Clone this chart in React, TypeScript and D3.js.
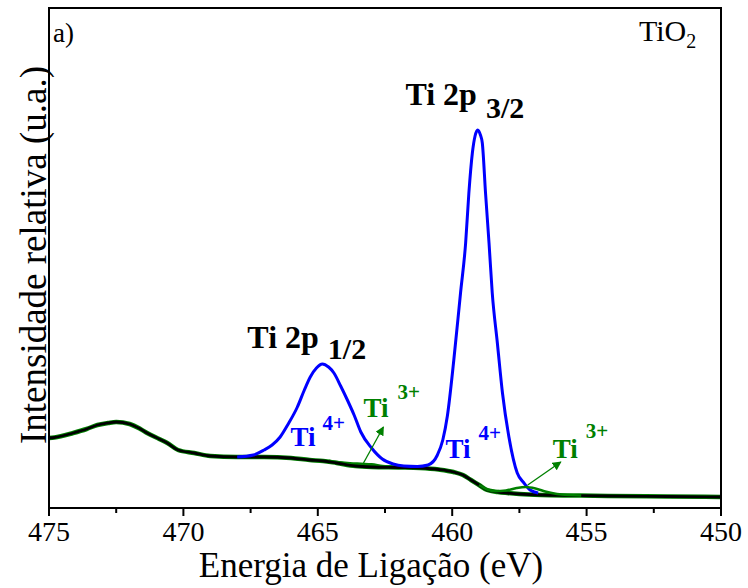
import React from 'react'
import { scaleLinear, line, curveMonotoneX } from 'd3'

// binding energy (eV) / intensity (u.a.)
const bgEnergy = [475.0, 474.8, 474.1, 473.6, 473.2, 472.8, 472.5, 472.0, 471.6, 471.35, 470.9, 470.6, 470.2, 469.6, 469.0, 468.0, 467.0, 466.0, 465.3, 464.8, 464.3, 463.6, 463.0, 462.0, 461.2, 460.5, 459.95, 459.6, 459.3, 459.0, 458.7, 458.3, 457.95, 457.5, 456.7, 455.5, 454.2, 452.0, 450.0]
const bgIntensity = [70, 70.5, 75, 79, 83, 85, 86, 84, 79, 75, 69, 65, 58, 55, 52, 51, 51, 50, 48, 47, 45, 42, 41, 40.5, 40, 38.5, 36, 33, 28, 23, 18, 16, 15, 14, 13, 12.5, 12, 11.5, 11]

const ti4Energy = [468.0, 467.4, 467.0, 466.7, 466.4, 466.1, 465.76, 465.5, 465.28, 465.05, 464.83, 464.6, 464.4, 464.15, 463.9, 463.65, 463.4, 463.0, 462.6, 462.2, 461.8, 461.3, 460.9, 460.55, 460.35, 460.18, 459.94, 459.69, 459.5, 459.38, 459.25, 459.15, 459.05, 458.95, 458.88, 458.76, 458.63, 458.51, 458.32, 458.13, 457.89, 457.58, 457.33, 457.1, 456.8]
const ti4Intensity = [51, 53, 58, 63, 71, 84, 101, 118, 131, 140, 144, 141, 135, 122, 108, 93, 76, 60, 49, 44, 42, 41.5, 43, 53, 68, 92, 148, 215, 265, 315, 355, 372, 378, 373, 365, 315, 265, 215, 165, 115, 71, 35, 25, 18, 15]

const ti3aEnergy = [464.6, 464.2, 463.8, 463.4, 463.0, 462.6, 462.2, 461.8]
const ti3aIntensity = [47, 45.5, 44.5, 44, 43.5, 41.8, 40.8, 40.5]

const ti3bEnergy = [459.0, 458.7, 458.4, 458.0, 457.6, 457.27, 456.9, 456.5, 456.1, 455.7, 455.2]
const ti3bIntensity = [23, 18.5, 16.8, 17.5, 20, 21, 19.5, 16.2, 14, 13, 12.6]

const majorTicks = [475, 470, 465, 460, 455, 450]
const minorTicks = [472.5, 467.5, 462.5, 457.5, 452.5]

const zip = (xs: number[], ys: number[]) => xs.map((x, i) => [x, ys[i]] as [number, number])

const App = () => {
    const left = 49, right = 721, top = 8, bottom = 508
    const x = scaleLinear().domain([475, 450]).range([left, right])
    const y = scaleLinear().domain([0, 500]).range([bottom, top])
    const path = line<[number, number]>()
        .x(d => x(d[0]))
        .y(d => y(d[1]))
        .curve(curveMonotoneX)

    const serif = { fontFamily: "'Liberation Serif', 'Times New Roman', serif" }
    const blue = '#0000ff'
    const green = '#008000'

    return (
        <svg width={748} height={588} style={{ position: 'absolute', left: 0, top: 0, ...serif }}>
            <defs>
                <marker id='arr' viewBox='0 0 10 10' refX='9' refY='5' markerWidth='9' markerHeight='9' orient='auto' markerUnits='userSpaceOnUse'>
                    <path d='M0,0 L10,5 L0,10 z' fill={green} />
                </marker>
            </defs>

            {/* data + background */}
            <path d={path(zip(bgEnergy, bgIntensity)) || ''} fill='none' stroke={green} strokeWidth={4.5} />
            <path d={path(zip(ti3aEnergy, ti3aIntensity)) || ''} fill='none' stroke={green} strokeWidth={3} />
            <path d={path(zip(bgEnergy, bgIntensity)) || ''} fill='none' stroke='#000' strokeWidth={2.8} />
            <path d={path(zip(ti4Energy, ti4Intensity)) || ''} fill='none' stroke={blue} strokeWidth={3} />
            <path d={path(zip(ti3bEnergy, ti3bIntensity)) || ''} fill='none' stroke={green} strokeWidth={2.5} />

            {/* frame */}
            <rect x={left} y={top} width={right - left} height={bottom - top} fill='none' stroke='#000' strokeWidth={2} />
            {majorTicks.map(t => (
                <g key={t}>
                    <line x1={x(t)} x2={x(t)} y1={bottom} y2={bottom + 8} stroke='#000' strokeWidth={2} />
                    <text x={x(t)} y={541} textAnchor='middle' style={{ ...serif, fontSize: 28 }}>{t}</text>
                </g>
            ))}
            {minorTicks.map(t => (
                <line key={t} x1={x(t)} x2={x(t)} y1={bottom} y2={bottom + 5} stroke='#000' strokeWidth={2} />
            ))}

            <text x={371} y={577} textAnchor='middle' style={{ ...serif, fontSize: 35 }}>Energia de Ligação (eV)</text>
            <text transform='translate(46,255) rotate(-90)' textAnchor='middle' style={{ ...serif, fontSize: 37 }}>Intensidade relativa (u.a.)</text>

            <text x={53} y={42} style={{ ...serif, fontSize: 27 }}>a)</text>
            <text x={639} y={41} style={{ ...serif, fontSize: 30 }}>TiO<tspan style={{ fontSize: 20 }} dy={7}>2</tspan></text>

            {/* peak labels */}
            <text x={x(467.62)} y={y(160)} style={{ ...serif, fontSize: 32, fontWeight: 'bold' }}>Ti 2p<tspan style={{ fontSize: 30 }} dx={9} dy={11}>1/2</tspan></text>
            <text x={x(461.74)} y={y(403)} style={{ ...serif, fontSize: 32, fontWeight: 'bold' }}>Ti 2p<tspan style={{ fontSize: 30 }} dx={9} dy={13}>3/2</tspan></text>

            <text x={x(466.02)} y={y(62)} fill={blue} style={{ ...serif, fontSize: 27, fontWeight: 'bold' }}>Ti<tspan style={{ fontSize: 21 }} dx={7} dy={-16}>4+</tspan></text>
            <text x={x(460.25)} y={y(50)} fill={blue} style={{ ...serif, fontSize: 27, fontWeight: 'bold' }}>Ti<tspan style={{ fontSize: 21 }} dx={8} dy={-18}>4+</tspan></text>

            <text x={x(463.3)} y={y(91)} fill={green} style={{ ...serif, fontSize: 27, fontWeight: 'bold' }}>Ti<tspan style={{ fontSize: 21 }} dx={9} dy={-18}>3+</tspan></text>
            <text x={x(456.26)} y={y(50)} fill={green} style={{ ...serif, fontSize: 27, fontWeight: 'bold' }}>Ti<tspan style={{ fontSize: 21 }} dx={8} dy={-20}>3+</tspan></text>

            <line x1={x(463.3)} y1={y(45)} x2={x(462.56)} y2={y(81)} stroke={green} strokeWidth={1.3} markerEnd='url(#arr)' />
            <line x1={x(457.19)} y1={y(23)} x2={x(455.96)} y2={y(46)} stroke={green} strokeWidth={1.3} markerEnd='url(#arr)' />
        </svg>
    )
}

export default App
